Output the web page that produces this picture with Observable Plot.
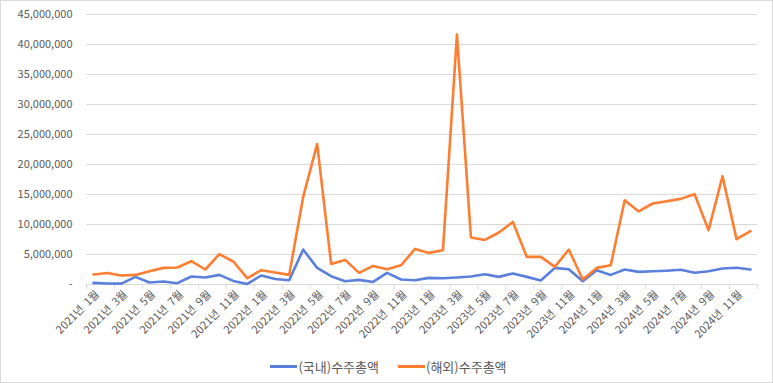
<!DOCTYPE html>
<html>
<head>
<meta charset="utf-8">
<script src="https://cdn.jsdelivr.net/npm/d3@7"></script>
<script src="https://cdn.jsdelivr.net/npm/@observablehq/plot@0.6"></script>
<style>
  html, body { margin: 0; padding: 0; background: #fff; }
  #wrap { position: relative; width: 773px; height: 383px; overflow: hidden; font-family: "Noto Sans CJK KR", "Noto Sans", sans-serif; }
  #frame { position: absolute; left: 0; top: 0; width: 771px; height: 381px; border: 1px solid #d9d9d9; pointer-events: none; }
  #chart { position: absolute; left: 0; top: 0; }
  #legend { position: absolute; left: 0; top: 357px; width: 773px; display: flex; justify-content: center; gap: 19px; font-size: 13px; color: #595959; padding-left: 2px; }
  .item { display: flex; align-items: center; }
  .sw { display: inline-block; width: 27px; height: 3px; margin-right: 1px; }
</style>
</head>
<body>
<div id="wrap">
  <div id="chart"></div>
  <div id="legend"></div>
  <div id="frame"></div>
</div>
<script>
const categories = [
  "2021년 1월","2021년 2월","2021년 3월","2021년 4월","2021년 5월","2021년 6월",
  "2021년 7월","2021년 8월","2021년 9월","2021년 10월","2021년 11월","2021년 12월",
  "2022년 1월","2022년 2월","2022년 3월","2022년 4월","2022년 5월","2022년 6월",
  "2022년 7월","2022년 8월","2022년 9월","2022년 10월","2022년 11월","2022년 12월",
  "2023년 1월","2023년 2월","2023년 3월","2023년 4월","2023년 5월","2023년 6월",
  "2023년 7월","2023년 8월","2023년 9월","2023년 10월","2023년 11월","2023년 12월",
  "2024년 1월","2024년 2월","2024년 3월","2024년 4월","2024년 5월","2024년 6월",
  "2024년 7월","2024년 8월","2024년 9월","2024년 10월","2024년 11월","2024년 12월"
];
const domestic = [
  270000, 170000, 150000, 1270000, 330000, 500000, 220000, 1330000, 1170000, 1600000, 600000, 100000,
  1500000, 930000, 720000, 5830000, 2770000, 1380000, 550000, 770000, 430000, 1930000, 830000, 720000,
  1100000, 1050000, 1170000, 1330000, 1720000, 1270000, 1830000, 1270000, 670000, 2770000, 2550000, 550000,
  2380000, 1600000, 2500000, 2100000, 2200000, 2300000, 2450000, 1950000, 2200000, 2670000, 2800000, 2500000
];
const overseas = [
  1670000, 1930000, 1500000, 1600000, 2200000, 2770000, 2830000, 3880000, 2500000, 5050000, 3830000, 1050000,
  2380000, 2000000, 1600000, 14600000, 23400000, 3430000, 4100000, 1930000, 3100000, 2550000, 3200000, 5930000,
  5270000, 5720000, 41670000, 7830000, 7430000, 8670000, 10430000, 4600000, 4600000, 2930000, 5830000, 830000,
  2770000, 3220000, 14050000, 12170000, 13500000, 13880000, 14270000, 15050000, 9050000, 18050000, 7550000, 8880000
];
const seriesNames = ["(국내)수주총액", "(해외)수주총액"];
const seriesColors = ["#5b7fdc", "#fd7e33"];
const yTicks = [0, 5000000, 10000000, 15000000, 20000000, 25000000, 30000000, 35000000, 40000000, 45000000];

const rows = [];
categories.forEach((c, i) => {
  rows.push({i, cat: c, series: seriesNames[0], value: domestic[i]});
  rows.push({i, cat: c, series: seriesNames[1], value: overseas[i]});
});

const labelIdx = categories.map((c, i) => i).filter(i => i % 2 === 0);
const boundaryIdx = d3.range(-0.5, categories.length, 2).concat([categories.length - 0.5]);

const fmt = d3.format(",");
const gridColor = "#d9d9d9";
const textColor = "#595959";

const chart = Plot.plot({
  width: 773,
  height: 357,
  marginLeft: 86,
  marginRight: 16,
  marginTop: 14,
  marginBottom: 73,
  style: { fontFamily: '"Noto Sans CJK KR", "Noto Sans", sans-serif', fontSize: "11px", color: textColor, background: "transparent" },
  x: { type: "linear", domain: [-0.5, categories.length - 0.5] },
  y: { domain: [0, 45000000] },
  color: { domain: seriesNames, range: seriesColors },
  marks: [
    Plot.gridY(yTicks, { stroke: gridColor, strokeOpacity: 1, strokeWidth: 1 }),
    Plot.axisY(yTicks, {
      tickSize: 0, tickPadding: 14, label: null,
      tickFormat: d => d === 0 ? "-" : fmt(d),
      fill: textColor, fontSize: 11, style: "letter-spacing:0.5px"
    }),
    Plot.ruleY([0], { stroke: gridColor, strokeWidth: 1 }),
    Plot.axisX(boundaryIdx, { tickSize: 5, stroke: gridColor, strokeOpacity: 1, tickFormat: () => "", label: null }),
    Plot.axisX(labelIdx, {
      tickSize: 0, tickPadding: 8, tickRotate: -45, label: null,
      tickFormat: i => categories[i].replace("년 ", "년  "),
      textAnchor: "end", fill: textColor, fontSize: 11, dx: 4
    }),
    Plot.line(rows, {
      x: "i", y: "value", z: "series", stroke: "series",
      strokeWidth: 2.6, strokeLinejoin: "round", strokeLinecap: "round"
    })
  ]
});
document.getElementById("chart").appendChild(chart);

const legend = document.getElementById("legend");
seriesNames.forEach((n, k) => {
  const item = document.createElement("div");
  item.className = "item";
  const sw = document.createElement("span");
  sw.className = "sw";
  sw.style.background = seriesColors[k];
  const t = document.createElement("span");
  t.textContent = n;
  item.appendChild(sw);
  item.appendChild(t);
  legend.appendChild(item);
});
</script>
</body>
</html>
